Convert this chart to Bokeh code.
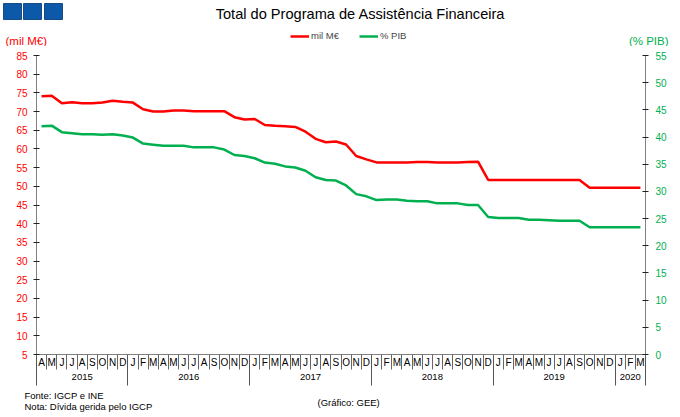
from bokeh.plotting import figure
from bokeh.layouts import column
from bokeh.models import (Range1d, LinearAxis, FixedTicker, Legend, LegendItem,
                          ColumnDataSource)
from bokeh.core.properties import value
from bokeh.embed import file_html
from bokeh.resources import INLINE

# ---------------- data ----------------
month_labels = (["A", "M", "J", "J", "A", "S", "O", "N", "D"]
                + ["J", "F", "M", "A", "M", "J", "J", "A", "S", "O", "N", "D"] * 4
                + ["J", "F", "M"])
years = ["2015", "2016", "2017", "2018", "2019", "2020"]
months_per_year = [9, 12, 12, 12, 12, 3]

mil_meur = [74.1, 74.2, 72.2, 72.5, 72.2, 72.2, 72.4, 72.9, 72.6,
            72.4, 70.6, 70.0, 70.0, 70.3, 70.3, 70.1, 70.1, 70.1, 70.1, 68.5, 67.9,
            68.0, 66.4, 66.2, 66.1, 65.9, 64.6, 62.7, 61.8, 62.0, 61.2, 58.1, 57.2,
            56.4, 56.4, 56.4, 56.4, 56.5, 56.5, 56.4, 56.4, 56.4, 56.5, 56.6, 51.7,
            51.7, 51.7, 51.7, 51.7, 51.7, 51.7, 51.7, 51.7, 51.7, 49.6, 49.6, 49.6,
            49.6, 49.6, 49.6]
pct_pib = [42.0, 42.1, 40.9, 40.7, 40.5, 40.5, 40.4, 40.5, 40.3,
           39.9, 38.8, 38.6, 38.4, 38.4, 38.4, 38.1, 38.1, 38.1, 37.7, 36.7, 36.5,
           36.1, 35.3, 35.1, 34.6, 34.4, 33.8, 32.6, 32.1, 32.0, 31.1, 29.5, 29.1,
           28.4, 28.5, 28.5, 28.3, 28.2, 28.2, 27.8, 27.8, 27.8, 27.5, 27.5, 25.3,
           25.1, 25.1, 25.1, 24.8, 24.8, 24.7, 24.6, 24.6, 24.6, 23.4, 23.4, 23.4,
           23.4, 23.4, 23.4]

left_ticks = list(range(5, 86, 5))
right_ticks = list(range(0, 56, 5))

title_text = "Total do Programa de Assistência Financeira"
left_unit = "(mil M€)"
right_unit = "(% PIB)"
series_names = ["mil M€", "% PIB"]
footer_left = ["Fonte: IGCP e INE", "Nota: Dívida gerida pelo IGCP"]
footer_mid = "(Gráfico: GEE)"

# ---------------- derived ----------------
n = len(month_labels)
x = list(range(n))
src = ColumnDataSource(dict(x=x, eur=mil_meur, pib=pct_pib))

year_bounds = [-0.5]
for m in months_per_year:
    year_bounds.append(year_bounds[-1] + m)
year_centers = [(year_bounds[i] + year_bounds[i + 1]) / 2 for i in range(len(years))]

FONT = "Liberation Sans"
RED = "#ff0000"
GREEN = "#00b050"
GREY = "#808080"
W = 680


def blank(height):
    f = figure(width=W, height=height, output_backend="svg", toolbar_location=None,
               x_range=Range1d(0, W), y_range=Range1d(height, 0),
               x_axis_type=None, y_axis_type=None, frame_align=False,
               min_border_left=0, min_border_right=0, min_border_top=0, min_border_bottom=0)
    f.outline_line_color = None
    f.grid.visible = False
    return f


# ---------------- header ----------------
H1 = 46
hd = blank(H1)
hd.quad(left=[3, 23, 44], right=[21, 41, 62], top=[3, 3, 3], bottom=[19, 19, 19],
        fill_color="#0b59a8", line_color="#174b84", line_width=1)
hd.text(x=[360], y=[13.5], text=[title_text], text_font=value(FONT), text_font_size="14.6px",
        text_color="black", text_align="center", text_baseline="middle")
hd.text(x=[5], y=[40.5], text=[left_unit], text_font=value(FONT), text_font_size="11.5px",
        text_color=RED, text_align="left", text_baseline="middle")
hd.text(x=[668], y=[40.5], text=[right_unit], text_font=value(FONT), text_font_size="11.5px",
        text_color=GREEN, text_align="right", text_baseline="middle")
nan = float("nan")
d1 = hd.line(x=[nan], y=[nan], line_color=RED, line_width=2.5)
d2 = hd.line(x=[nan], y=[nan], line_color=GREEN, line_width=2.5)
legend = Legend(items=[LegendItem(label=series_names[0], renderers=[d1]),
                       LegendItem(label=series_names[1], renderers=[d2])],
                orientation="horizontal", location=(290, 5),
                border_line_color=None, background_fill_alpha=0,
                padding=0, margin=0, spacing=20,
                glyph_width=19, glyph_height=10, label_height=10, label_standoff=2,
                label_text_font=FONT, label_text_font_size="9.5px")
hd.add_layout(legend)

# ---------------- main ----------------
H2 = 341
p = figure(width=W, height=H2, output_backend="svg", toolbar_location=None,
           x_range=Range1d(-0.5, n - 0.5), y_range=Range1d(5, 85),
           x_axis_type=None, y_axis_type=None, frame_align=False,
           min_border_left=36, min_border_right=35,
           min_border_top=9, min_border_bottom=33)
p.outline_line_color = None
p.extra_y_ranges = {"pib": Range1d(0, 55)}

ax_l = LinearAxis(ticker=FixedTicker(ticks=left_ticks))
ax_l.axis_line_color = GREY
ax_l.major_tick_line_color = "#222222"
ax_l.major_tick_in = 3
ax_l.major_tick_out = 3
ax_l.major_label_standoff = 6
ax_l.major_label_text_color = RED
ax_l.major_label_text_font = FONT
ax_l.major_label_text_font_size = "10px"
p.add_layout(ax_l, "left")

ax_r = LinearAxis(y_range_name="pib", ticker=FixedTicker(ticks=right_ticks))
ax_r.axis_line_color = GREY
ax_r.major_tick_line_color = "#222222"
ax_r.major_tick_in = 3
ax_r.major_tick_out = 3
ax_r.major_label_standoff = 7
ax_r.major_label_text_color = GREEN
ax_r.major_label_text_font = FONT
ax_r.major_label_text_font_size = "10px"
p.add_layout(ax_r, "right")

ax_m = LinearAxis(ticker=FixedTicker(ticks=x, minor_ticks=[i - 0.5 for i in range(n + 1)]),
                  major_label_overrides={i: month_labels[i] for i in range(n)})
ax_m.axis_line_color = GREY
ax_m.major_tick_in = 0
ax_m.major_tick_out = 0
ax_m.minor_tick_in = -15
ax_m.minor_tick_out = 0
ax_m.minor_tick_line_color = "#666666"
ax_m.major_label_standoff = 2
ax_m.major_label_text_font = FONT
ax_m.major_label_text_font_size = "10px"
ax_m.major_label_text_font_style = "normal"
ax_m.major_label_text_color = "black"
p.add_layout(ax_m, "below")

ax_y = LinearAxis(ticker=FixedTicker(ticks=year_centers, minor_ticks=year_bounds),
                  major_label_overrides={year_centers[i]: years[i] for i in range(len(years))})
ax_y.axis_line_color = None
ax_y.major_tick_in = 0
ax_y.major_tick_out = 0
ax_y.minor_tick_in = -15
ax_y.minor_tick_out = -14
ax_y.minor_tick_line_color = "#555555"
ax_y.major_label_standoff = 3
ax_y.major_label_text_font = FONT
ax_y.major_label_text_font_size = "9.5px"
ax_y.major_label_text_font_style = "normal"
ax_y.major_label_text_color = "black"
p.add_layout(ax_y, "below")

p.line("x", "eur", source=src, line_color=RED, line_width=2.5)
p.line("x", "pib", source=src, line_color=GREEN, line_width=2.5, y_range_name="pib")

# ---------------- footer ----------------
H3 = 417 - H1 - H2
ft = blank(H3)
ft.text(x=[24, 24], y=[8, 18.5], text=footer_left, text_font=value(FONT),
        text_font_size="9.5px", text_color="black", text_align="left", text_baseline="middle")
ft.text(x=[317], y=[14.5], text=[footer_mid], text_font=value(FONT),
        text_font_size="9.5px", text_color="black", text_align="left", text_baseline="middle")

layout = column(hd, p, ft, spacing=0)
open("out.html", "w").write(file_html(layout, INLINE))
